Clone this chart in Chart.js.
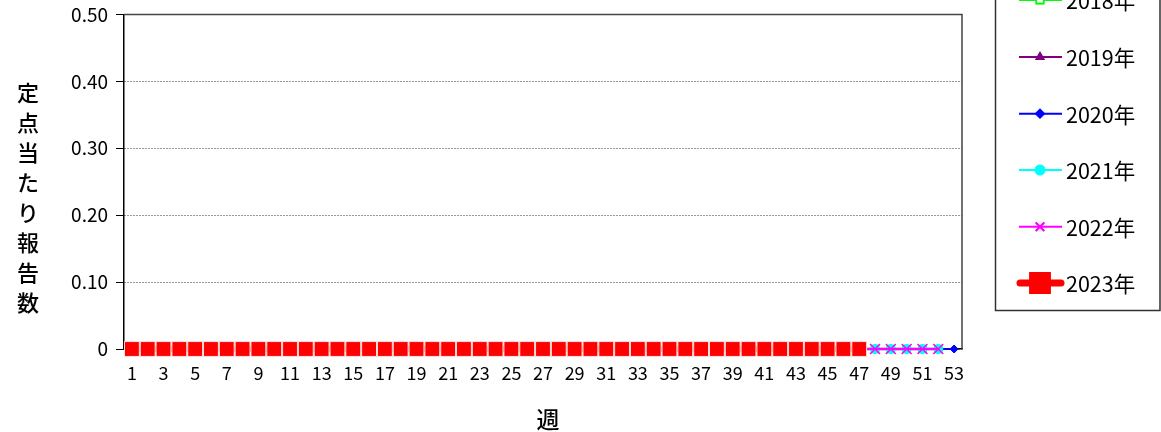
<!DOCTYPE html>
<html><head><meta charset="utf-8">
<script src="https://cdn.jsdelivr.net/npm/chart.js@4"></script>
<style>html,body{margin:0;padding:0;background:#fff;overflow:hidden}#wrap{position:relative;width:1161px;height:432px;overflow:hidden}#c{position:absolute;left:0;top:-5px}</style>
</head><body>
<div id="wrap"><canvas id="c" width="1161" height="437"></canvas></div>
<script>
const weeks = Array.from({length:53},(_,i)=>String(i+1));
const years = ['2018年','2019年','2020年','2021年','2022年','2023年'];
const v2018 = [0,0,0,0,0,0,0,0,0,0,0,0,0,0,0,0,0,0,0,0,0,0,0,0,0,0,0,0,0,0,0,0,0,0,0,0,0,0,0,0,0,0,0,0,0,0,0,0,0,0,0,0];
const v2019 = [0,0,0,0,0,0,0,0,0,0,0,0,0,0,0,0,0,0,0,0,0,0,0,0,0,0,0,0,0,0,0,0,0,0,0,0,0,0,0,0,0,0,0,0,0,0,0,0,0,0,0,0];
const v2020 = [0,0,0,0,0,0,0,0,0,0,0,0,0,0,0,0,0,0,0,0,0,0,0,0,0,0,0,0,0,0,0,0,0,0,0,0,0,0,0,0,0,0,0,0,0,0,0,0,0,0,0,0,0];
const v2021 = [0,0,0,0,0,0,0,0,0,0,0,0,0,0,0,0,0,0,0,0,0,0,0,0,0,0,0,0,0,0,0,0,0,0,0,0,0,0,0,0,0,0,0,0,0,0,0,0,0,0,0,0];
const v2022 = [0,0,0,0,0,0,0,0,0,0,0,0,0,0,0,0,0,0,0,0,0,0,0,0,0,0,0,0,0,0,0,0,0,0,0,0,0,0,0,0,0,0,0,0,0,0,0,0,0,0,0,0];
const v2023 = [0,0,0,0,0,0,0,0,0,0,0,0,0,0,0,0,0,0,0,0,0,0,0,0,0,0,0,0,0,0,0,0,0,0,0,0,0,0,0,0,0,0,0,0,0,0,0];
const yTicks = [0,0.1,0.2,0.3,0.4,0.5];
const yTitle = '定点当たり報告数';
const xTitle = '週';

const FONT = '"Noto Sans CJK JP","Noto Sans",sans-serif';
const SHIFT = 5;

const datasets = [
  {label:years[0],data:v2018,borderColor:'#00FF00',backgroundColor:'#FFFFFF',borderWidth:2,pointStyle:'rect',pointRadius:5,pointBorderColor:'#00FF00',pointBackgroundColor:'#FFFFFF',pointBorderWidth:1.5,order:5,clip:false},
  {label:years[1],data:v2019,borderColor:'#800080',backgroundColor:'#800080',borderWidth:2.5,pointStyle:'triangle',pointRadius:4,pointBorderColor:'#800080',pointBackgroundColor:'#800080',pointBorderWidth:1,order:4,clip:false},
  {label:years[2],data:v2020,borderColor:'#0000FF',backgroundColor:'#0000FF',borderWidth:2,pointStyle:'rectRot',pointRadius:4,pointBorderColor:'#0000FF',pointBackgroundColor:'#0000FF',pointBorderWidth:1,order:3,clip:false},
  {label:years[3],data:v2021,borderColor:'#00FFFF',backgroundColor:'#00FFFF',borderWidth:2,pointStyle:'circle',pointRadius:4.5,pointBorderColor:'#00FFFF',pointBackgroundColor:'#00FFFF',pointBorderWidth:1,order:2,clip:false},
  {label:years[4],data:v2022,borderColor:'#FF00FF',backgroundColor:'#FF00FF',borderWidth:2,pointStyle:'crossRot',pointRadius:7,pointBorderColor:'#FF00FF',pointBackgroundColor:'#FF00FF',pointBorderWidth:1.5,order:1,clip:false},
  {label:years[5],data:v2023,borderColor:'#FF0000',backgroundColor:'#FF0000',borderWidth:6,pointStyle:'rect',pointRadius:10.5,pointBorderColor:'#FFE0E0',pointBackgroundColor:'#FF0000',pointBorderWidth:1,order:0,clip:false}
];

const decor = {
  id:'decor',
  afterDraw(chart){
    const ctx = chart.ctx;
    ctx.save();
    ctx.translate(0, SHIFT);
    ctx.fillStyle = '#000'; ctx.font = '500 22px ' + FONT; ctx.textAlign = 'center'; ctx.textBaseline = 'middle';
    [...yTitle].forEach((ch,i)=>ctx.fillText(ch, 28, 93 + i*30));
    ctx.font = '500 23px ' + FONT;
    ctx.fillText(xTitle, 548, 419);
    // legend box
    ctx.strokeStyle = '#333'; ctx.lineWidth = 1.5;
    ctx.beginPath(); ctx.moveTo(995.5, -10); ctx.lineTo(995.5, 310.5); ctx.lineTo(1160, 310.5); ctx.lineTo(1160, -10); ctx.stroke();
    const ys = [0,57,113.7,170,226.7,283];
    chart.data.datasets.forEach((ds,i)=>{
      const y = ys[i];
      const thick = ds.borderWidth > 3;
      ctx.strokeStyle = ds.borderColor; ctx.lineWidth = thick ? 7 : 2; ctx.lineCap = thick ? 'round' : 'butt';
      const x0 = thick ? 1020 : 1019, x1 = thick ? 1061 : 1062;
      ctx.beginPath(); ctx.moveTo(x0, y); ctx.lineTo(x1, y); ctx.stroke();
      ctx.lineCap = 'butt';
      const r = thick ? 10.5 : (ds.pointStyle==='crossRot' ? 6 : ds.pointRadius);
      Chart.helpers.drawPoint(ctx, {pointStyle: ds.pointStyle, radius: r, borderWidth: ds.pointBorderWidth, rotation:0}, 1040, y);
      ctx.fillStyle = ds.pointBackgroundColor; ctx.strokeStyle = thick ? '#FF0000' : ds.pointBorderColor;
      ctx.fill(); ctx.lineWidth = ds.pointBorderWidth; ctx.stroke();
      ctx.fillStyle = '#000'; ctx.font = '21.5px ' + FONT; ctx.textAlign = 'left'; ctx.textBaseline = 'middle';
      ctx.fillText(ds.label, 1066, y + 1);
    });
    ctx.restore();
  },
  beforeDatasetsDraw(chart){
    const ctx = chart.ctx, a = chart.chartArea;
    ctx.save();
    ctx.strokeStyle = '#444'; ctx.lineWidth = 1.5;
    ctx.beginPath(); ctx.moveTo(a.left, a.top); ctx.lineTo(a.right, a.top); ctx.lineTo(a.right, a.bottom); ctx.stroke();
    ctx.restore();
  }
};

new Chart(document.getElementById('c'), {
  type:'line',
  data:{labels:weeks, datasets},
  options:{
    responsive:false, animation:false, devicePixelRatio:1,
    layout:{padding:{left:0,right:199,top:5,bottom:0}},
    plugins:{legend:{display:false},tooltip:{enabled:false}},
    elements:{line:{tension:0}},
    scales:{
      x:{
        type:'category', offset:true,
        grid:{display:false, drawTicks:false},
        border:{display:true,color:'#000',width:1.5},
        ticks:{autoSkip:false,maxRotation:0,minRotation:0,padding:13,color:'#000',font:{family:FONT,size:18},
          callback:function(v,i){return (i%2===0)?weeks[i]:'';}},
        afterFit(s){s.height = 83;}
      },
      y:{
        min:0,max:0.5,
        afterBuildTicks(s){s.ticks = yTicks.map(v=>({value:v}));},
        grid:{color:'#333',lineWidth:1,drawTicks:true,tickLength:8,tickColor:'#000',tickBorderDash:[],tickWidth:1},
        border:{display:true,color:'#000',width:1.5,dash:[1,2]},
        ticks:{padding:8,color:'#000',font:{family:FONT,size:19},callback:v=>v===0?'0':v.toFixed(2)},
        afterFit(s){s.width = 124;}
      }
    }
  },
  plugins:[decor]
});
</script>
</body></html>
